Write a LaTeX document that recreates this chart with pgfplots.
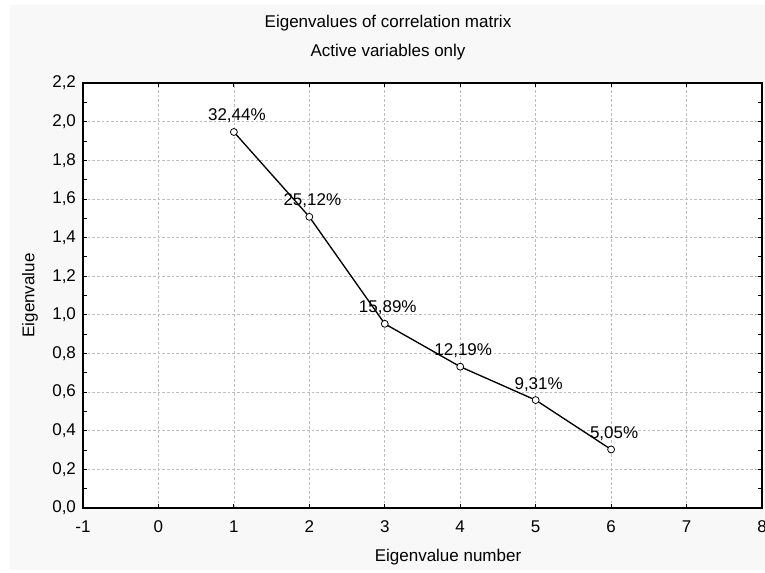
\documentclass[border=0pt]{standalone}
\usepackage{fontspec}
\setmainfont{Liberation Sans}
\usepackage{pgfplots}
\pgfplotsset{compat=1.18}
\definecolor{bggray}{RGB}{248,248,248}
\definecolor{gridgray}{RGB}{190,190,190}
\newcommand{\chartfont}{\fontsize{12.75}{21.75}\selectfont}
\begin{document}
\begin{tikzpicture}[font=\chartfont]
\fill[bggray] (-54.75pt,-46.5pt) rectangle (511.5pt,377.25pt);
\begin{axis}[
  scale only axis, width=509.25pt, height=318.75pt,
  xmin=-1, xmax=8, ymin=0, ymax=2.2,
  xtick={-1,0,1,2,3,4,5,6,7,8},
  ytick={0,0.2,0.4,0.6,0.8,1.0,1.2,1.4,1.6,1.8,2.0,2.2},
  minor y tick num=1,
  tick align=inside, major tick length=3pt, minor tick length=3pt,
  every tick/.style={black, line width=0.6pt},
  axis line style={line width=1.3pt},
  axis background/.style={fill=white},
  grid=major,
  major grid style={gridgray, line width=0.5pt, dash pattern=on 2pt off 1.5pt},
  /pgf/number format/assume math mode=true,
  tick label style={font=\chartfont},
  yticklabel style={/pgf/number format/.cd, use comma, fixed, fixed zerofill, precision=1, /tikz/.cd, xshift=-1.75pt},
  xticklabel style={yshift=-6pt},
  title={Eigenvalues of correlation matrix\\Active variables only},
  title style={align=center, at={(rel axis cs:0.4492,1.088)}, anchor=center, font=\chartfont},
  xlabel={Eigenvalue number},
  xlabel style={at={(rel axis cs:0.5376,-0.1153)}, anchor=center, font=\chartfont},
  ylabel={Eigenvalue},
  ylabel style={at={(rel axis cs:-0.078,0.5)}, anchor=center, font=\chartfont},
]
\addplot[black, line width=1pt, mark=*, mark size=2.6pt,
  mark options={fill=white, draw=black, line width=0.6pt},
  nodes near coords, point meta=explicit symbolic,
  nodes near coords style={anchor=base, inner sep=0pt, yshift=8.25pt, xshift=2.25pt, font=\chartfont, text=black}]
coordinates {
 (1,1.9464) [32,44\%]
 (2,1.5072) [25,12\%]
 (3,0.9534) [15,89\%]
 (4,0.7314) [12,19\%]
 (5,0.5586) [9,31\%]
 (6,0.3030) [5,05\%]
};
\end{axis}
\pgfresetboundingbox
\useasboundingbox (-62.25pt,-48.75pt) rectangle (511.5pt,381pt);
\end{tikzpicture}
\end{document}
